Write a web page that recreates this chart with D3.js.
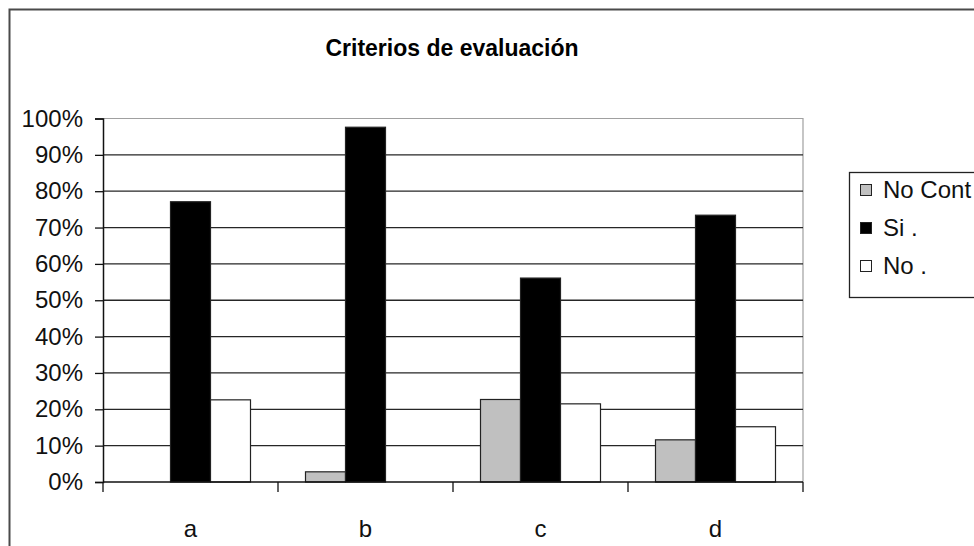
<!DOCTYPE html>
<html><head><meta charset="utf-8">
<script src="https://cdn.jsdelivr.net/npm/d3@7"></script>
<style>html,body{margin:0;padding:0;background:#fff;overflow:hidden}</style>
</head><body>
<svg id="c" width="974" height="546"></svg>
<script>
const categories = ["a", "b", "c", "d"];
const seriesNames = ["No Cont", "Si .", "No ."];
const noCont = [0, 0.028, 0.227, 0.116];
const si = [0.771, 0.976, 0.561, 0.734];
const no = [0.226, 0, 0.215, 0.152];
const yTicks = [0, 0.1, 0.2, 0.3, 0.4, 0.5, 0.6, 0.7, 0.8, 0.9, 1.0];
const title = "Criterios de evaluación";

const seriesValues = [noCont, si, no];
const colors = ["#c0c0c0", "#000000", "#ffffff"];
const font = "'Liberation Sans', Arial, sans-serif";

const svg = d3.select("#c");
const L = 103, R = 803, T = 118.5, B = 482;

// outer frame
svg.append("rect").attr("x", 9.5).attr("y", 9.5).attr("width", 1000).attr("height", 600)
  .attr("fill", "#fff").attr("stroke", "#4a4a4a").attr("stroke-width", 2);

// title
svg.append("text").attr("x", 452).attr("y", 56).attr("text-anchor", "middle")
  .attr("font-family", font).attr("font-weight", "bold").attr("font-size", 23)
  .attr("fill", "#000").text(title);

const x = d3.scaleBand().domain(categories).range([L, R]).padding(0);
const xs = d3.scaleBand().domain(seriesNames).range([0, x.bandwidth()])
  .paddingInner(0).paddingOuter(0.6875);
const y = d3.scaleLinear().domain([0, 1]).range([B, T]);

// plot area border (top/right)
svg.append("path").attr("d", `M${L},${T}H${R}V${B}`).attr("fill", "none")
  .attr("stroke", "#a0a0a0").attr("stroke-width", 1.2);

// gridlines
svg.append("g").selectAll("line").data(yTicks.filter(v => v > 0 && v < 1)).join("line")
  .attr("x1", L).attr("x2", R).attr("y1", d => y(d)).attr("y2", d => y(d))
  .attr("stroke", "#262626").attr("stroke-width", 1.3);

// bars
const groups = svg.append("g").selectAll("g").data(seriesNames).join("g");
groups.selectAll("rect").data((s, si2) => categories.map((c, i) => ({c, s, v: seriesValues[si2][i], col: colors[si2]})))
  .join("rect")
  .filter(d => d.v > 0)
  .attr("x", d => x(d.c) + xs(d.s)).attr("width", xs.bandwidth())
  .attr("y", d => y(d.v)).attr("height", d => B - y(d.v))
  .attr("fill", d => d.col).attr("stroke", "#222").attr("stroke-width", 1.2);

// y axis
const yAxis = svg.append("g").attr("transform", `translate(${L},0)`)
  .call(d3.axisLeft(y).tickValues(yTicks).tickFormat(d3.format(".0%")).tickSize(8).tickPadding(12));
yAxis.select(".domain").attr("stroke", "#111").attr("stroke-width", 1.5);
yAxis.selectAll(".tick line").attr("stroke", "#111").attr("stroke-width", 1.3);
yAxis.selectAll("text").attr("font-family", font).attr("font-size", 24).attr("fill", "#111");

// x axis
const xAxisG = svg.append("g").attr("transform", `translate(0,${B})`);
xAxisG.append("line").attr("x1", L).attr("x2", R).attr("stroke", "#111").attr("stroke-width", 1.5);
const bounds = categories.map(c => x(c)).concat([R]);
xAxisG.selectAll("line.t").data(bounds).join("line").attr("class", "t")
  .attr("x1", d => d).attr("x2", d => d).attr("y1", 0).attr("y2", 10)
  .attr("stroke", "#111").attr("stroke-width", 1.3);
xAxisG.selectAll("text").data(categories).join("text")
  .attr("x", d => x(d) + x.bandwidth() / 2).attr("y", 55).attr("text-anchor", "middle")
  .attr("font-family", font).attr("font-size", 24).attr("fill", "#111").text(d => d);

// legend
const lg = svg.append("g");
lg.append("rect").attr("x", 849.5).attr("y", 172.5).attr("width", 200).attr("height", 125)
  .attr("fill", "#fff").attr("stroke", "#222").attr("stroke-width", 1.3);
const ly = [190, 228, 266];
seriesNames.forEach((s, i) => {
  lg.append("rect").attr("x", 860.5).attr("y", ly[i] - 5.5).attr("width", 11).attr("height", 11)
    .attr("fill", colors[i]).attr("stroke", "#222").attr("stroke-width", 1);
  lg.append("text").attr("x", 883).attr("y", ly[i] + 8).attr("font-family", font)
    .attr("font-size", 24).attr("fill", "#111").text(s);
});
</script>
</body></html>
